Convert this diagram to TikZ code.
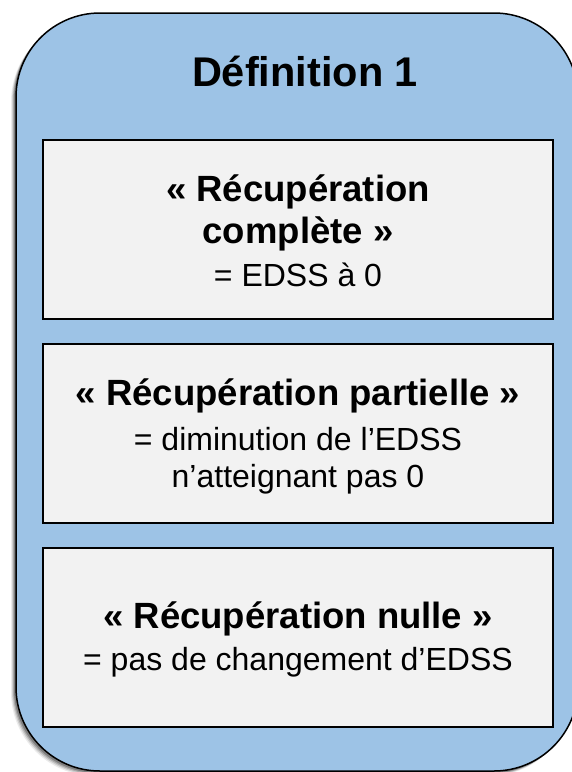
\documentclass[tikz,border=0pt]{standalone}
\usepackage{fontspec}
\setmainfont{Liberation Sans}
\usetikzlibrary{shadows,calc}
\definecolor{outerblue}{HTML}{9DC3E6}
\definecolor{boxgray}{HTML}{F2F2F2}
\tikzset{
  outer/.style={draw=black, line width=1.5pt, fill=outerblue, rounded corners=84pt},
  defbox/.style={draw=black, line width=2pt, fill=boxgray, minimum width=510pt, minimum height=179pt, inner sep=0pt},
  boldline/.style={anchor=base, inner sep=0pt, font=\fontsize{36.5}{43}\selectfont\bfseries},
  plainline/.style={anchor=base, inner sep=0pt, font=\fontsize{32}{37}\selectfont},
  titletext/.style={anchor=base, inner sep=0pt, font=\fontsize{41.5}{48}\selectfont\bfseries}
}
\begin{document}
\begin{tikzpicture}[x=1pt,y=-1pt]
\useasboundingbox (0,0) rectangle (571,772);
% shadow of outer shape
\foreach \o/\op in {5/0.08,4/0.12,3/0.18,2/0.25}{
  \fill[black, opacity=\op, rounded corners=84pt] (16-\o,13+\o) rectangle (578-\o,771+\o);
}
\draw[outer] (16,13) rectangle (578,771);
% title
\node[titletext] (title) at (305,86.5) {Définition 1};
% boxes
\node[defbox] (b1) at (298,229.5) {};
\node[defbox] (b2) at (298,433.5) {};
\node[defbox] (b3) at (298,637) {};
% box 1 text
\node[boldline] (b1l1) at (298,201) {« Récupération};
\node[boldline] (b1l2) at (298,243) {complète »};
\node[plainline] (b1l3) at (298,286) {= EDSS à 0};
% box 2 text
\node[boldline] (b2l1) at (298,405) {« Récupération partielle »};
\node[plainline] (b2l2) at (298,450) {= diminution de l’EDSS};
\node[plainline] (b2l3) at (298,487) {n’atteignant pas 0};
% box 3 text
\node[boldline] (b3l1) at (298,628) {« Récupération nulle »};
\node[plainline] (b3l2) at (298,670) {= pas de changement d’EDSS};
\end{tikzpicture}
\end{document}
